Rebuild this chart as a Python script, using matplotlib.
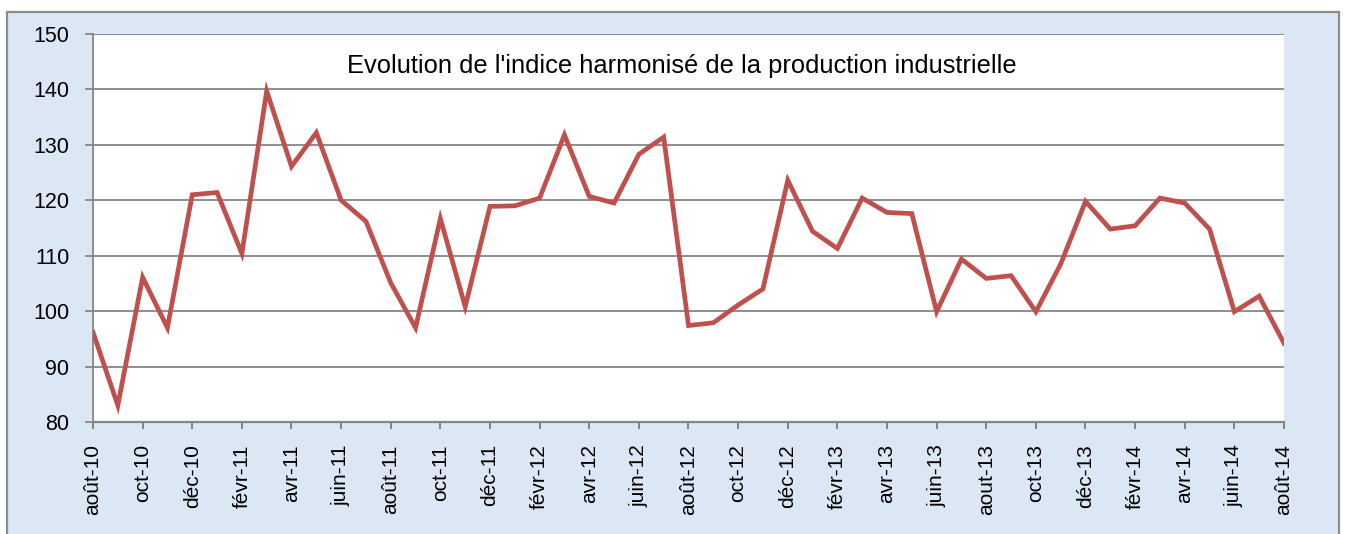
import matplotlib
matplotlib.use('Agg')
from matplotlib import pyplot as plt
from matplotlib.patches import Rectangle


# indice harmonise de la production industrielle, aout 2010 -> aout 2014
months = [
    'août-10', 'sept-10', 'oct-10', 'nov-10', 'déc-10', 'janv-11', 'févr-11',
    'mars-11', 'avr-11', 'mai-11', 'juin-11', 'juil-11', 'août-11', 'sept-11',
    'oct-11', 'nov-11', 'déc-11', 'janv-12', 'févr-12', 'mars-12', 'avr-12',
    'mai-12', 'juin-12', 'juil-12', 'août-12', 'sept-12', 'oct-12', 'nov-12',
    'déc-12', 'janv-13', 'févr-13', 'mars-13', 'avr-13', 'mai-13', 'juin-13',
    'juil-13', 'aout-13', 'sept-13', 'oct-13', 'nov-13', 'déc-13', 'janv-14',
    'févr-14', 'mars-14', 'avr-14', 'mai-14', 'juin-14', 'juil-14', 'août-14',
]
index_values = [
    96.2, 83.0, 106.1, 97.0, 121.0, 121.4, 110.4,
    139.7, 126.1, 132.2, 120.0, 116.2, 105.1, 97.0,
    116.7, 100.8, 118.9, 119.0, 120.4, 131.8, 120.7,
    119.5, 128.3, 131.4, 97.4, 97.9, 101.1, 104.0,
    123.6, 114.4, 111.3, 120.4, 117.8, 117.6, 99.9,
    109.4, 105.9, 106.4, 99.9, 108.5, 119.8, 114.8,
    115.4, 120.4, 119.5, 114.8, 99.9, 102.7, 94.2,
]
y_ticks = [80, 90, 100, 110, 120, 130, 140, 150]
title = "Evolution de l'indice harmonisé de la production industrielle"

plt.rcParams['font.family'] = ['Liberation Sans', 'DejaVu Sans']

W, H = 1348, 534
fig = plt.figure(figsize=(W / 100, H / 100), dpi=100, facecolor='white')

# chart area background with grey frame (bottom runs off the picture)
fig.patches.append(Rectangle((7 / W, -0.05), (1339 - 7) / W, 1.05 - 12 / H,
                             transform=fig.transFigure, facecolor='#dbe7f5',
                             edgecolor='#8c8c8c', linewidth=1.6, zorder=-10))

ax = fig.add_axes([93 / W, (H - 422) / H, (1284 - 93) / W, (422 - 34) / H])
ax.set_facecolor('white')

x = list(range(len(months)))
ax.plot(x, index_values, color='#c0504d', linewidth=3.4, solid_joinstyle='miter',
        zorder=3)

ax.set_xlim(0, len(months) - 1)
ax.set_ylim(80, 150)
ax.set_yticks(y_ticks)
ax.set_xticks(x[::2])
ax.set_xticklabels(months[::2], rotation=90, fontsize=15)
ax.tick_params(axis='y', labelsize=15.5, length=0, pad=17)
ax.tick_params(axis='x', length=5, width=1.3, color='#7a7a7a', pad=11)

ax.grid(axis='y', color='#868686', linewidth=1.3, zorder=1)
for side in ('top', 'right'):
    ax.spines[side].set_visible(False)
ax.spines['left'].set_color('#868686')
ax.spines['left'].set_linewidth(1.3)
ax.spines['bottom'].set_color('#868686')
ax.spines['bottom'].set_linewidth(1.6)

# little stubs of the grid lines to the left of the axis, as in Excel
for v in y_ticks:
    ax.plot([-0.28, 0], [v, v], color='#868686', linewidth=1.3, clip_on=False,
            zorder=2)

ax.text(682 / W, (H - 66) / H, title, transform=fig.transFigure,
        ha='center', va='center', fontsize=18.4, zorder=10)

fig.savefig('out.png', dpi=100, facecolor=fig.get_facecolor())
